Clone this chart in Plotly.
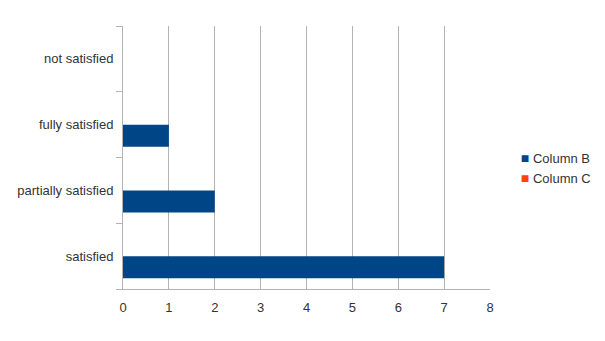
import plotly.graph_objects as go

categories = ["satisfied", "partially satisfied", "fully satisfied", "not satisfied"]
column_b = [7, 2, 1, 0]
column_c = [0, 0, 0, 0]
series_names = ["Column B", "Column C"]
colors = ["#004586", "#ff420e"]
x_ticks = [0, 1, 2, 3, 4, 5, 6, 7, 8]

fig = go.Figure()
for name, vals, col in zip(series_names, [column_b, column_c], colors):
    fig.add_trace(go.Bar(y=categories, x=vals, orientation="h", name=name,
                         marker=dict(color=col, line=dict(width=0)), showlegend=False))
for name, col in zip(series_names, colors):
    label = f'<span style="color:{col};font-size:14px">■</span> {name}'
    fig.add_trace(go.Scatter(x=[None], y=[None], mode="markers", name=label,
                             marker=dict(symbol="square", size=1, color="rgba(0,0,0,0)")))

grid = "#b3b3b3"
fig.update_layout(
    width=605, height=341,
    margin=dict(l=123, r=115, t=26, b=52, autoexpand=False),
    paper_bgcolor="white", plot_bgcolor="white",
    font=dict(family="Liberation Sans, Arial, sans-serif", size=13, color="#333333"),
    barmode="group", bargap=0.33, bargroupgap=0,
    showlegend=True,
    legend=dict(x=0.975, xanchor="left", y=0.46, yanchor="middle",
                font=dict(size=13, color="#333333"), itemwidth=30,
                tracegroupgap=0, bgcolor="rgba(0,0,0,0)"),
)
fig.update_xaxes(range=[0, 8], tickvals=x_ticks, showgrid=True, gridcolor=grid, gridwidth=1,
                 zeroline=False, showline=True, linecolor=grid, linewidth=1,
                 ticks="", ticklabelstandoff=6, fixedrange=True)
fig.update_yaxes(categoryorder="array", categoryarray=categories, showgrid=False,
                 zeroline=False, showline=True, linecolor=grid, linewidth=1,
                 ticks="outside", tickson="boundaries", ticklen=6, tickcolor=grid,
                 ticklabelstandoff=6)
fig.write_html("out.html")
